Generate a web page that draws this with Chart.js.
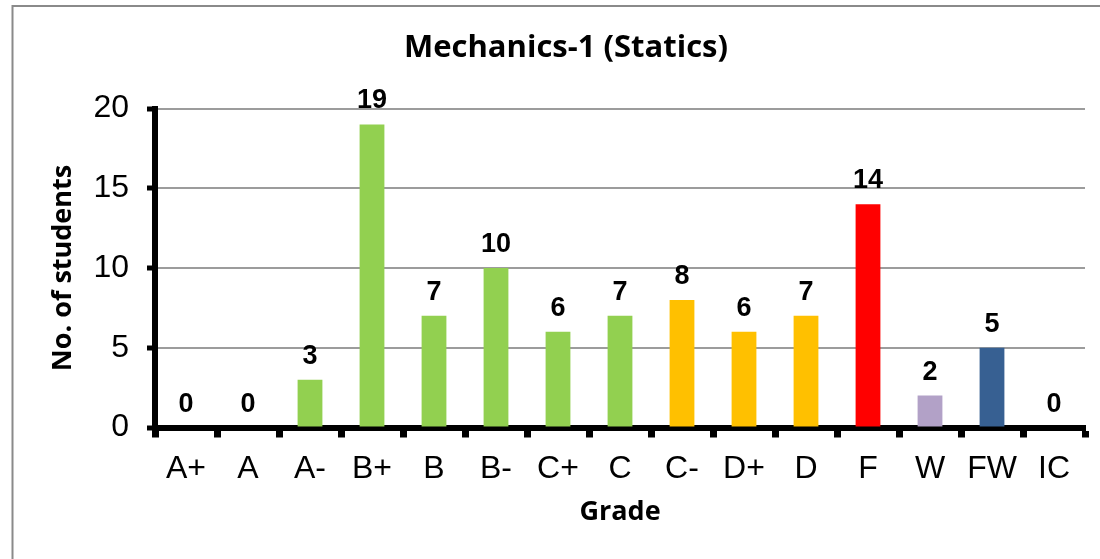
<!DOCTYPE html>
<html>
<head>
<meta charset="utf-8">
<script src="https://cdn.jsdelivr.net/npm/chart.js@4"></script>
<style>
  html, body { margin: 0; padding: 0; background: #fff; }
  canvas { display: block; }
</style>
</head>
<body>
<canvas id="chart" width="1100" height="559"></canvas>
<script>
// values
const chartTitle = 'Mechanics-1 (Statics)';
const grades = ['A+', 'A', 'A-', 'B+', 'B', 'B-', 'C+', 'C', 'C-', 'D+', 'D', 'F', 'W', 'FW', 'IC'];
const students = [0, 0, 3, 19, 7, 10, 6, 7, 8, 6, 7, 14, 2, 5, 0];
const yTicks = [0, 5, 10, 15, 20];

// colours by grade group
const GREEN = '#92D050', ORANGE = '#FFC000', RED = '#FF0000', PURPLE = '#B2A1C7', BLUE = '#376092';
const barColors = [GREEN, GREEN, GREEN, GREEN, GREEN, GREEN, GREEN, GREEN,
  ORANGE, ORANGE, ORANGE, RED, PURPLE, BLUE, GREEN];

Chart.defaults.color = '#000';

// grey frame round the whole chart
const frame = {
  id: 'frame',
  beforeDraw(chart) {
    const ctx = chart.ctx;
    ctx.save();
    ctx.strokeStyle = '#8a8a8a';
    ctx.lineWidth = 2;
    ctx.strokeRect(12.5, 6, chart.width + 20, chart.height + 20);
    ctx.restore();
  }
};

// value labels above the bars
const valueLabels = {
  id: 'valueLabels',
  afterDatasetsDraw(chart) {
    const ctx = chart.ctx;
    const meta = chart.getDatasetMeta(0);
    ctx.save();
    ctx.font = 'bold 27px "Liberation Sans", Arial, sans-serif';
    ctx.fillStyle = '#000';
    ctx.textAlign = 'center';
    ctx.textBaseline = 'alphabetic';
    meta.data.forEach((bar, i) => {
      ctx.fillText(String(students[i]), bar.x, bar.y - 16);
    });
    ctx.restore();
  }
};

new Chart(document.getElementById('chart'), {
  type: 'bar',
  data: {
    labels: grades,
    datasets: [{
      data: students,
      backgroundColor: barColors,
      borderWidth: 0,
      barPercentage: 0.4,
      categoryPercentage: 1
    }]
  },
  options: {
    responsive: false,
    animation: false,
    devicePixelRatio: 1,
    layout: { padding: { left: 47, right: 15, top: 10, bottom: 0 } },
    plugins: {
      legend: { display: false },
      tooltip: { enabled: false },
      title: {
        display: true,
        text: chartTitle,
        color: '#000',
        font: { family: 'Open Sans', size: 31, weight: 'bold' },
        padding: { top: 19.7, bottom: 41.6 }
      }
    },
    scales: {
      x: {
        afterFit: s => { s.height = 131.5; },
        border: { display: true, color: '#000', width: 6 },
        grid: {
          drawOnChartArea: false,
          drawTicks: true,
          tickLength: 10,
          tickColor: '#000',
          tickWidth: 7
        },
        ticks: {
          padding: 12,
          font: { family: 'Liberation Sans', size: 32 }
        },
        title: {
          display: true,
          text: 'Grade',
          font: { family: 'Open Sans', size: 27, weight: 'bold' },
          padding: { top: 0, bottom: 30 }
        }
      },
      y: {
        min: 0,
        max: 20,
        afterFit: s => { s.width = 108; },
        afterBuildTicks: s => { s.ticks = yTicks.map(v => ({ value: v })); },
        border: { display: true, color: '#000', width: 6 },
        grid: {
          color: '#9c9c9c',
          lineWidth: 2,
          drawTicks: true,
          tickLength: 8,
          tickColor: '#000',
          tickWidth: 5
        },
        ticks: {
          padding: 18,
          font: { family: 'Liberation Sans', size: 32 }
        },
        title: {
          display: true,
          text: 'No. of students',
          font: { family: 'Open Sans', size: 27, weight: 'bold' },
          padding: { top: 0, bottom: 0 }
        }
      }
    }
  },
  plugins: [frame, valueLabels]
});
</script>
</body>
</html>
